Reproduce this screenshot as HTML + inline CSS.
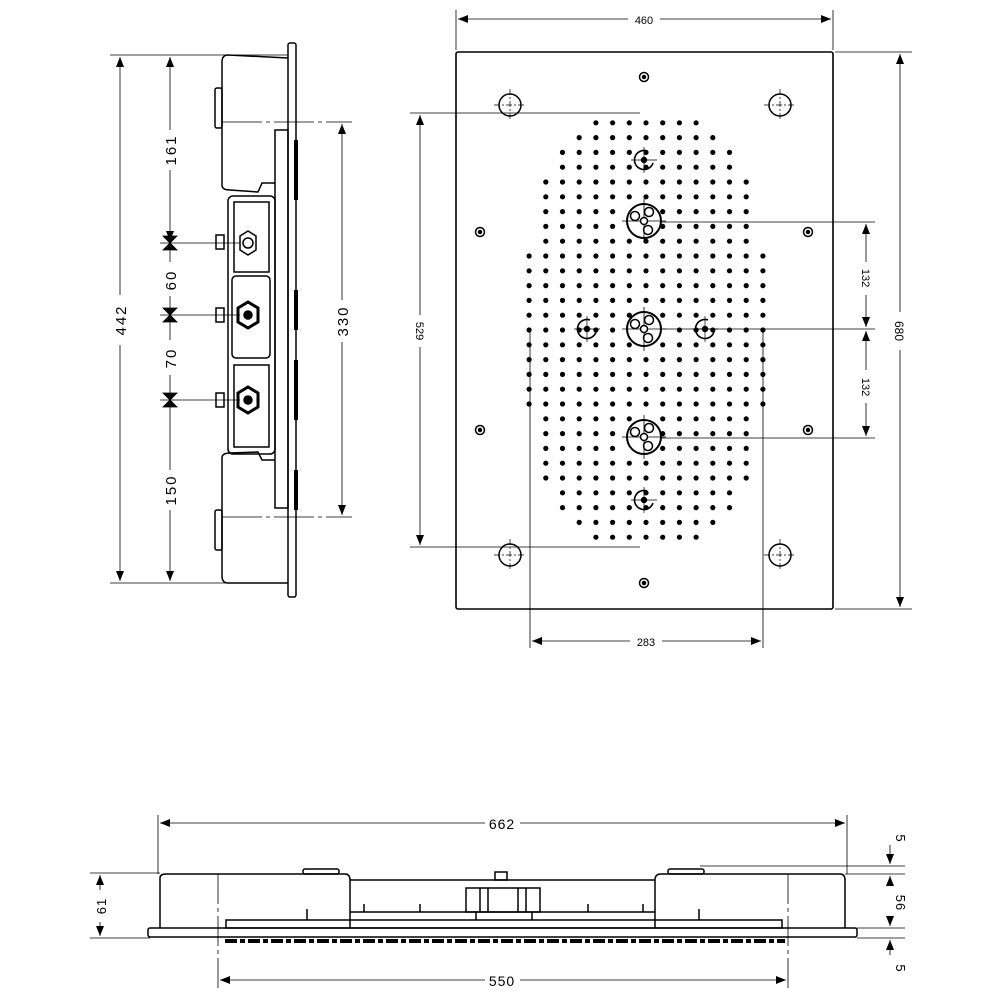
<!DOCTYPE html>
<html><head><meta charset="utf-8"><style>
html,body{margin:0;padding:0;background:#fff}
svg{display:block}
text{font-family:"Liberation Sans",sans-serif;fill:#000}
</style></head><body>
<svg id="s" width="1000" height="1000" viewBox="0 0 1000 1000" xmlns="http://www.w3.org/2000/svg">
<defs>
<marker id="a" viewBox="0 0 10 10" refX="10" refY="5" markerWidth="10" markerHeight="10" orient="auto-start-reverse" markerUnits="userSpaceOnUse"><path d="M0,1 L10,5 L0,9z" fill="#000"/></marker>
</defs>
<g stroke="#000" fill="none">
<rect x="456" y="52" width="377" height="557" stroke-width="1.6" rx="2"/>
<line x1="456" y1="10" x2="456" y2="50" stroke-width="0.8"/>
<line x1="833" y1="10" x2="833" y2="50" stroke-width="0.8"/>
<line x1="458" y1="19" x2="628" y2="19" stroke-width="0.8" marker-start="url(#a)"/>
<line x1="660" y1="19" x2="831" y2="19" stroke-width="0.8" marker-end="url(#a)"/>
<line x1="835" y1="52" x2="912" y2="52" stroke-width="0.8"/>
<line x1="835" y1="609" x2="912" y2="609" stroke-width="0.8"/>
<line x1="900" y1="54" x2="900" y2="312" stroke-width="0.8" marker-start="url(#a)"/>
<line x1="900" y1="350" x2="900" y2="607" stroke-width="0.8" marker-end="url(#a)"/>
<line x1="660" y1="222" x2="875" y2="222" stroke-width="0.8"/>
<line x1="660" y1="329" x2="875" y2="329" stroke-width="0.8"/>
<line x1="660" y1="438" x2="875" y2="438" stroke-width="0.8"/>
<line x1="866" y1="224" x2="866" y2="262" stroke-width="0.8" marker-start="url(#a)"/>
<line x1="866" y1="295" x2="866" y2="327" stroke-width="0.8" marker-end="url(#a)"/>
<line x1="866" y1="331" x2="866" y2="370" stroke-width="0.8" marker-start="url(#a)"/>
<line x1="866" y1="403" x2="866" y2="436" stroke-width="0.8" marker-end="url(#a)"/>
<line x1="410" y1="113" x2="640" y2="113" stroke-width="0.8"/>
<line x1="410" y1="547" x2="640" y2="547" stroke-width="0.8"/>
<line x1="420" y1="115" x2="420" y2="315" stroke-width="0.8" marker-start="url(#a)"/>
<line x1="420" y1="347" x2="420" y2="545" stroke-width="0.8" marker-end="url(#a)"/>
<line x1="530" y1="330" x2="530" y2="648" stroke-width="0.8"/>
<line x1="763" y1="330" x2="763" y2="648" stroke-width="0.8"/>
<line x1="532" y1="641" x2="630" y2="641" stroke-width="0.8" marker-start="url(#a)"/>
<line x1="662" y1="641" x2="761" y2="641" stroke-width="0.8" marker-end="url(#a)"/>
<g id="holes" stroke-width="1.5"></g>
<g stroke-width="1.5">
<rect x="288" y="43" width="8" height="554" rx="2"/>
<path d="M288,58 L228,55 Q222,55 222,62 L222,185 Q222,190 230,190 L258,192 L262,183 L275,183"/>
<path d="M288,583 L228,583 Q222,583 222,576 L222,458 Q222,453 230,453 L258,452 L262,460 L275,460"/>
<rect x="275" y="130" width="13" height="378"/>
<rect x="228" y="196" width="47" height="258" rx="5"/>
<rect x="234" y="202" width="35" height="70"/>
<rect x="232" y="276" width="38" height="82" rx="4"/>
<rect x="234" y="365" width="35" height="82"/>
<rect x="215" y="88" width="7" height="40" rx="2"/>
<rect x="215" y="510" width="7" height="40" rx="2"/>
<rect x="216" y="235" width="8" height="14"/><rect x="216" y="308" width="8" height="14"/><rect x="216" y="393" width="8" height="14"/>
<polygon points="240,236 248,231 256,236 256,250 248,255 240,250"/>
<polygon points="238,308 248,302 258,308 258,322 248,328 238,322" stroke-width="3"/>
<polygon points="238,393 248,387 258,393 258,407 248,413 238,407" stroke-width="3"/>
<circle cx="248" cy="243" r="5"/><circle cx="248" cy="315" r="4" fill="#000"/><circle cx="248" cy="400" r="4" fill="#000"/>
<path d="M296,140 v60 M296,290 v40 M296,360 v60 M296,470 v40" stroke-width="4"/>
</g>
<g stroke-width="0.8">
<line x1="110" y1="55" x2="288" y2="55"/><line x1="110" y1="583" x2="288" y2="583"/>
<line x1="120" y1="57" x2="120" y2="295" marker-start="url(#a)"/>
<line x1="120" y1="345" x2="120" y2="581" marker-end="url(#a)"/>
<line x1="170" y1="57" x2="170" y2="130" marker-start="url(#a)"/>
<line x1="170" y1="170" x2="170" y2="241" marker-end="url(#a)"/>
<line x1="160" y1="243" x2="240" y2="243"/><line x1="160" y1="315" x2="240" y2="315"/><line x1="160" y1="400" x2="240" y2="400"/>
<line x1="170" y1="245" x2="170" y2="262"/><line x1="170" y1="296" x2="170" y2="313"/>
<line x1="170" y1="317" x2="170" y2="340"/><line x1="170" y1="375" x2="170" y2="398"/>
<line x1="170" y1="402" x2="170" y2="470"/><line x1="170" y1="510" x2="170" y2="581" marker-end="url(#a)"/>
<path d="M163,236 L177,236 L170,243 Z M163,250 L177,250 L170,243Z M163,308 L177,308 L170,315Z M163,322 L177,322 L170,315Z M163,393 L177,393 L170,400Z M163,407 L177,407 L170,400Z" fill="#000"/>
<line x1="222" y1="122" x2="352" y2="122" stroke-dasharray="40,4,4,4"/>
<line x1="222" y1="517" x2="352" y2="517" stroke-dasharray="40,4,4,4"/>
<line x1="342" y1="124" x2="342" y2="300" marker-start="url(#a)"/>
<line x1="342" y1="342" x2="342" y2="515" marker-end="url(#a)"/>
</g>
<g stroke-width="1.5">
<rect x="148" y="928" width="709" height="9" rx="2"/>
<path d="M160,928 L160,878 Q160,874 166,874 L345,874 Q350,874 350,880 L350,928"/>
<path d="M655,928 L655,880 Q655,874 661,874 L840,874 Q845,874 845,880 L845,928"/>
<line x1="350" y1="880" x2="655" y2="880"/>
<line x1="350" y1="912" x2="655" y2="912"/>
<rect x="226" y="920" width="556" height="8"/>
<rect x="466" y="888" width="74" height="24"/>
<line x1="480" y1="888" x2="480" y2="912"/><line x1="488" y1="888" x2="488" y2="912"/><line x1="518" y1="888" x2="518" y2="912"/><line x1="526" y1="888" x2="526" y2="912"/>
<rect x="303" y="869" width="36" height="5" rx="2"/><rect x="668" y="869" width="36" height="5" rx="2"/>
<rect x="495" y="872" width="12" height="8"/>
<path d="M307,920 v-11 M364,912 v-8 M420,912 v-8 M476,920 v-8 M532,920 v-8 M588,912 v-8 M643,912 v-8 M699,920 v-11"/>
<path d="M225,941 H785" stroke-width="4" stroke-dasharray="12,3,5,3"/>
</g>
<g stroke-width="0.8">
<line x1="158" y1="815" x2="158" y2="874"/><line x1="847" y1="815" x2="847" y2="874"/>
<line x1="160" y1="823" x2="485" y2="823" marker-start="url(#a)"/>
<line x1="520" y1="823" x2="845" y2="823" marker-end="url(#a)"/>
<line x1="218" y1="874" x2="218" y2="990" stroke-dasharray="30,4,4,4"/>
<line x1="788" y1="874" x2="788" y2="990" stroke-dasharray="30,4,4,4"/>
<line x1="220" y1="980" x2="485" y2="980" marker-start="url(#a)"/>
<line x1="520" y1="980" x2="786" y2="980" marker-end="url(#a)"/>
<line x1="90" y1="873" x2="160" y2="873"/><line x1="90" y1="938" x2="150" y2="938"/>
<line x1="100" y1="875" x2="100" y2="890" marker-start="url(#a)"/>
<line x1="100" y1="922" x2="100" y2="936" marker-end="url(#a)"/>
<line x1="700" y1="866" x2="905" y2="866"/><line x1="845" y1="874" x2="905" y2="874"/>
<line x1="857" y1="928" x2="905" y2="928"/><line x1="857" y1="938" x2="905" y2="938"/>
<line x1="890" y1="845" x2="890" y2="864" marker-end="url(#a)"/>
<line x1="890" y1="876" x2="890" y2="885" marker-start="url(#a)"/>
<line x1="890" y1="920" x2="890" y2="926" marker-end="url(#a)"/>
<line x1="890" y1="940" x2="890" y2="955" marker-start="url(#a)"/>
</g>
</g>
<g id="dots"></g>
<g font-size="13">
<text x="644" y="24" text-anchor="middle" font-size="11">460</text>
<text x="646" y="646" text-anchor="middle" font-size="11">283</text>
<text transform="translate(895,331) rotate(90)" text-anchor="middle" font-size="12">680</text>
<text transform="translate(416,331) rotate(90)" text-anchor="middle" font-size="11">529</text>
<text transform="translate(862,278) rotate(90)" text-anchor="middle" font-size="11">132</text>
<text transform="translate(862,387) rotate(90)" text-anchor="middle" font-size="11">132</text>
<text transform="translate(126,320) rotate(-90)" text-anchor="middle" font-size="15" letter-spacing="2">442</text>
<text transform="translate(176,150) rotate(-90)" text-anchor="middle" font-size="15" letter-spacing="2">161</text>
<text transform="translate(176,280) rotate(-90)" text-anchor="middle" font-size="15" letter-spacing="2">60</text>
<text transform="translate(176,358) rotate(-90)" text-anchor="middle" font-size="15" letter-spacing="2">70</text>
<text transform="translate(176,490) rotate(-90)" text-anchor="middle" font-size="15" letter-spacing="2">150</text>
<text transform="translate(348,321) rotate(-90)" text-anchor="middle" font-size="15" letter-spacing="2">330</text>
<text x="502" y="829" text-anchor="middle" font-size="14" letter-spacing="1">662</text>
<text x="502" y="986" text-anchor="middle" font-size="14" letter-spacing="1">550</text>
<text transform="translate(106,906) rotate(-90)" text-anchor="middle" font-size="13" letter-spacing="1">61</text>
<text transform="translate(896,838) rotate(90)" text-anchor="middle" font-size="13">5</text>
<text transform="translate(896,903) rotate(90)" text-anchor="middle" font-size="13" letter-spacing="1">56</text>
<text transform="translate(896,968) rotate(90)" text-anchor="middle" font-size="13">5</text>
</g>
<script>
(function(){
var NS="http://www.w3.org/2000/svg";
function el(p,t,a){var e=document.createElementNS(NS,t);for(var k in a)e.setAttribute(k,a[k]);p.appendChild(e);return e;}
var H=document.getElementById('holes'),D=document.getElementById('dots');
[[510,105],[780,105],[510,555],[780,555]].forEach(function(p){el(H,'circle',{cx:p[0],cy:p[1],r:11});
el(H,'path',{d:'M'+(p[0]-16)+','+p[1]+'h32M'+p[0]+','+(p[1]-16)+'v32','stroke-width':0.7,'stroke-dasharray':'6,2,2,2'});});
[[644,77],[644,583],[480,232],[808,232],[480,430],[808,430]].forEach(function(p){el(H,'circle',{cx:p[0],cy:p[1],r:4.5});el(H,'circle',{cx:p[0],cy:p[1],r:1.5,fill:'#000'});});
var noz=[[644,221],[644,329],[644,437]];
noz.forEach(function(p){el(H,'circle',{cx:p[0],cy:p[1],r:17,'stroke-width':2});
el(H,'path',{d:'M'+(p[0]-22)+','+p[1]+'h44M'+p[0]+','+(p[1]-22)+'v44','stroke-width':0.8});
[[-9,-5],[5,-9],[4,9]].forEach(function(q){el(H,'circle',{cx:p[0]+q[0],cy:p[1]+q[1],r:4.5,'stroke-width':1.5});});
el(H,'circle',{cx:p[0],cy:p[1],r:3.5,fill:'#fff','stroke-width':1.5});});
[[644,160],[644,500],[587,329],[705,329]].forEach(function(p){el(H,'path',{d:'M'+(p[0]+9)+','+(p[1]+3)+'A9.5,9.5 0 1 1 '+(p[0]+3)+','+(p[1]-9),'stroke-width':1.6});
el(H,'path',{d:'M'+(p[0]-13)+','+p[1]+'h26M'+p[0]+','+(p[1]-13)+'v26','stroke-width':0.7});
el(H,'circle',{cx:p[0],cy:p[1],r:2.5,fill:'#000'});});
var cx=646,cy=330,a=120,b=222,n=2.8,sx=16.7;
for(var j=-14;j<=14;j++){var y=cy+j*14.8;
 for(var i=-8;i<=8;i++){var x=cx+i*sx;
  var v=Math.pow(Math.abs((x-cx)/a),n)+Math.pow(Math.abs((y-cy)/b),n);
  if(v>1)continue;
  var skip=false;noz.forEach(function(p){if(Math.hypot(x-p[0],y-p[1])<19)skip=true;});
  if(skip)continue;
  el(D,'circle',{cx:x.toFixed(1),cy:y.toFixed(1),r:2.6,fill:'#000'});}}
})();
</script>
</svg>
</body></html>
